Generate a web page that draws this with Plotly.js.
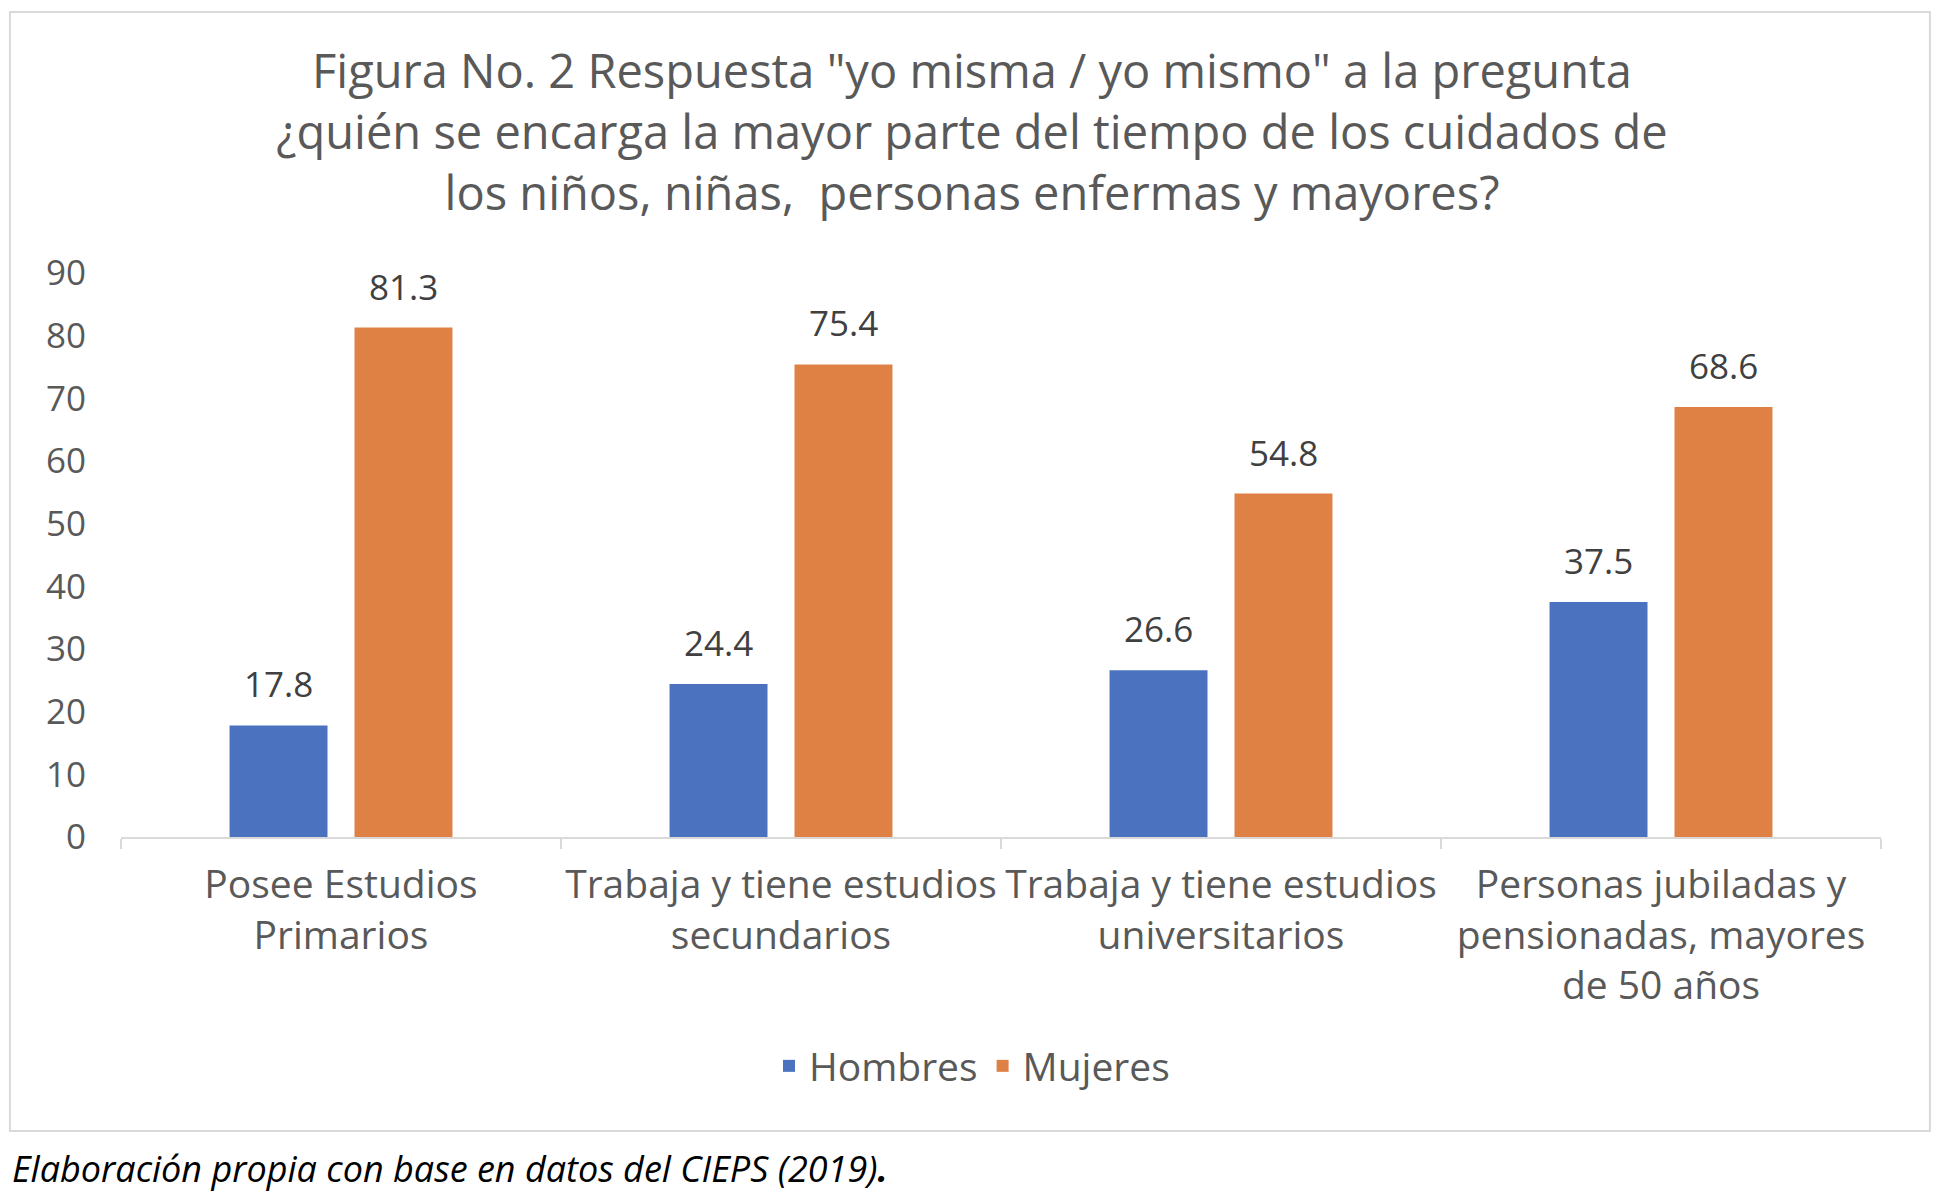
<!DOCTYPE html>
<html>
<head>
<meta charset="utf-8">
<script src="https://cdn.plot.ly/plotly-3.0.1.min.js"></script>
<style>
  body { margin: 0; background: #ffffff; }
  #chart { width: 1944px; height: 1192px; }
</style>
</head>
<body>
<div id="chart"></div>
<script>
// ###################### DATA ######################

const categories = [
    "Posee Estudios<br>Primarios",
    "Trabaja y tiene estudios<br>secundarios",
    "Trabaja y tiene estudios<br>universitarios",
    "Personas jubiladas y<br>pensionadas, mayores<br>de 50 años"
];
const hombres = [17.8, 24.4, 26.6, 37.5];
const mujeres = [81.3, 75.4, 54.8, 68.6];
const yTicks = [0, 10, 20, 30, 40, 50, 60, 70, 80, 90];

const titleText = 'Figura No. 2 Respuesta "yo misma / yo mismo" a la pregunta<br>' +
                  '¿quién se encarga la mayor parte del tiempo de los cuidados de<br>' +
                  'los niños, niñas,  personas enfermas y mayores?';
const captionText = "<i>Elaboración propia con base en datos del CIEPS (2019)<b>.</b></i>";

// ###################### CHART ######################

const FONT = "'Open Sans', Lato, sans-serif";
const BARGAP = 0.432;
const BARGROUPGAP = 0.216;

function drawCuidadosGraph(){

    const plotData = [
        { type: "bar", x: categories, y: hombres, name: "Hombres",
          marker: { color: "#4A72BE" }, hoverinfo: "none" },
        { type: "bar", x: categories, y: mujeres, name: "Mujeres",
          marker: { color: "#DF8144" }, hoverinfo: "none" },
    ];

    // value labels sit above each bar: centre of each bar slot in category units
    const slot = (1 - BARGAP) / 2;
    const valueLabels = [];
    [hombres, mujeres].forEach((series, s) => {
        series.forEach((v, i) => {
            valueLabels.push({
                xref: "x", yref: "y",
                x: i + (s - 0.5) * slot, y: v,
                text: v.toFixed(1),
                showarrow: false, xanchor: "center", yanchor: "bottom", yshift: 16,
                font: { family: FONT, size: 35, color: "#404040" }
            });
        });
    });

    // plot area: x 121..1881 px, y 273 (90) .. 837 (0)
    const plotLayout = {
        width: 1944,
        height: 1192,
        paper_bgcolor: "#ffffff",
        plot_bgcolor: "#ffffff",
        font: { family: FONT, size: 36, color: "#595959" },
        margin: { l: 121, r: 63, t: 273, b: 355, autoexpand: false },
        barmode: "group",
        bargap: BARGAP,
        bargroupgap: BARGROUPGAP,
        title: {
            text: titleText,
            font: { size: 47, color: "#595959" },
            x: 0.5, xref: "container", xanchor: "center",
            y: 0.926, yref: "container", yanchor: "top"
        },
        xaxis: {
            type: "category",
            showline: true, linecolor: "#d9d9d9", linewidth: 2,
            ticks: "outside", tickson: "boundaries", ticklen: 10,
            tickcolor: "#d9d9d9", tickwidth: 2,
            tickangle: 0, ticklabelstandoff: 12,
            tickfont: { size: 39, color: "#595959" },
            showgrid: false, zeroline: false, fixedrange: true
        },
        yaxis: {
            range: [0, 90],
            tickvals: yTicks,
            showline: false, showgrid: false, zeroline: false,
            ticks: "", ticklabelstandoff: 34,
            tickfont: { size: 35, color: "#595959" },
            fixedrange: true
        },
        showlegend: true,
        legend: {
            orientation: "h",
            x: 0.5, xref: "container", xanchor: "center",
            y: 1 - 1066 / 1192, yref: "container", yanchor: "middle",
            font: { size: 39, color: "#595959" },
            bgcolor: "rgba(0,0,0,0)"
        },
        shapes: [
            // outer chart frame
            { type: "rect", xref: "paper", yref: "paper",
              x0: -0.0631, x1: 1.0278, y0: -0.5213, y1: 1.4628,
              line: { color: "#d9d9d9", width: 2 }, fillcolor: "rgba(0,0,0,0)", layer: "below" }
        ],
        annotations: valueLabels.concat([
            { text: captionText, xref: "paper", yref: "paper",
              x: -0.0631, y: -0.587, xanchor: "left", yanchor: "middle",
              showarrow: false,
              font: { family: FONT, size: 36, color: "#000000" } }
        ])
    };

    const plotConfig = {
        staticPlot: true,
        responsive: false,
    };

    Plotly.newPlot("chart", plotData, plotLayout, plotConfig);

}

drawCuidadosGraph();
</script>
</body>
</html>
